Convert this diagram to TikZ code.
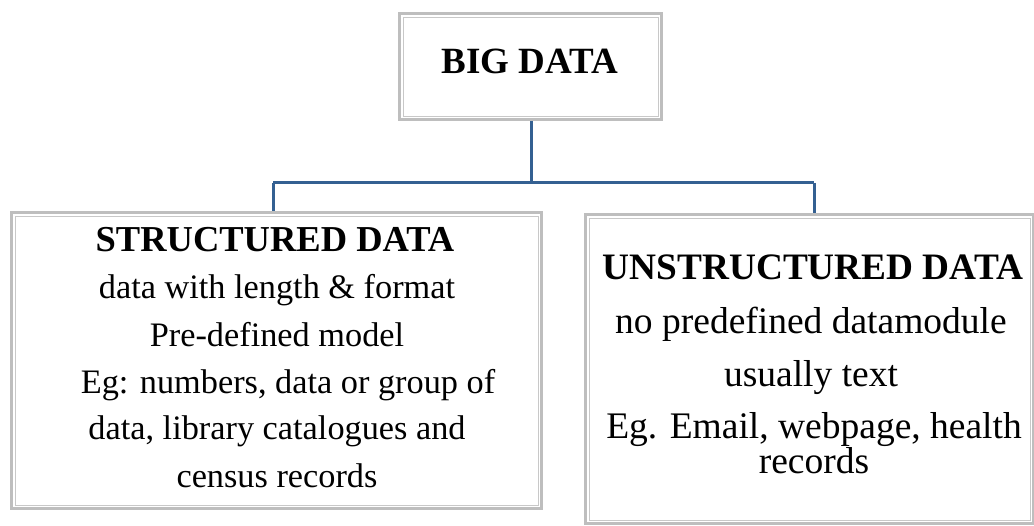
\documentclass[tikz,border=0pt]{standalone}
\usepackage{fontspec}
\setmainfont{Liberation Serif}
\usetikzlibrary{calc}
\definecolor{conn}{RGB}{52,96,146}
\definecolor{frame}{RGB}{190,190,190}
\tikzset{
  x=1pt,y=1pt,
  boxframe/.style={draw=frame, line width=3pt, fill=white, inner sep=0pt, anchor=north west},
  innerframe/.style={draw=frame!85, line width=0.8pt},
  head/.style={font=\fontsize{#1}{40}\selectfont\bfseries, anchor=base, inner sep=0pt},
  body/.style={font=\fontsize{#1}{40}\selectfont, anchor=base, inner sep=0pt},
  link/.style={draw=conn, line width=3pt},
}
\begin{document}
\begin{tikzpicture}
\useasboundingbox (0,0) rectangle (1034,-526);
% boxes
\node[boxframe, minimum width=262, minimum height=106] (big) at (398,-12) {};
\node[boxframe, minimum width=530, minimum height=296] (left) at (10,-211) {};
\node[boxframe, minimum width=448, minimum height=309] (right) at (584,-213) {};
\foreach \b in {big,left,right}{
  \draw[innerframe] ($(\b.north west)+(5,-5)$) rectangle ($(\b.south east)+(-5,5)$);
}
% connectors
\coordinate (j) at (531,-183);
\coordinate (jl) at (273,-183);
\coordinate (jr) at (814,-183);
\draw[link] (big.south -| j) -- (j);
\draw[link] (jl) -- (jr);
\draw[link] (jl) -- (jl |- left.north);
\draw[link] (jr) -- (jr |- right.north);
% texts
\node[head=37] (tbig) at (530,-74) {BIG DATA};
\node[head=36.5] (t1) at (275,-252) {STRUCTURED DATA};
\node[body=34.3] (t2) at (277,-299) {data with length \& format};
\node[body=34.3] (t3) at (277,-347) {Pre-defined model};
\node[body=34.3] (t4) at (288,-394) {Eg: numbers, data or group of};
\node[body=34.3] (t5) at (277,-440) {data, library catalogues and};
\node[body=34.3] (t6) at (277,-487) {census records};
\node[head=37.3] (u1) at (813,-280) {UNSTRUCTURED DATA};
\node[body=37.5] (u2) at (811,-334) {no predefined datamodule};
\node[body=37.5] (u3) at (811,-387) {usually text};
\node[body=37.5] (u4) at (814,-439) {Eg. Email, webpage, health};
\node[body=37.5] (u5) at (814,-474) {records};
\end{tikzpicture}
\end{document}
